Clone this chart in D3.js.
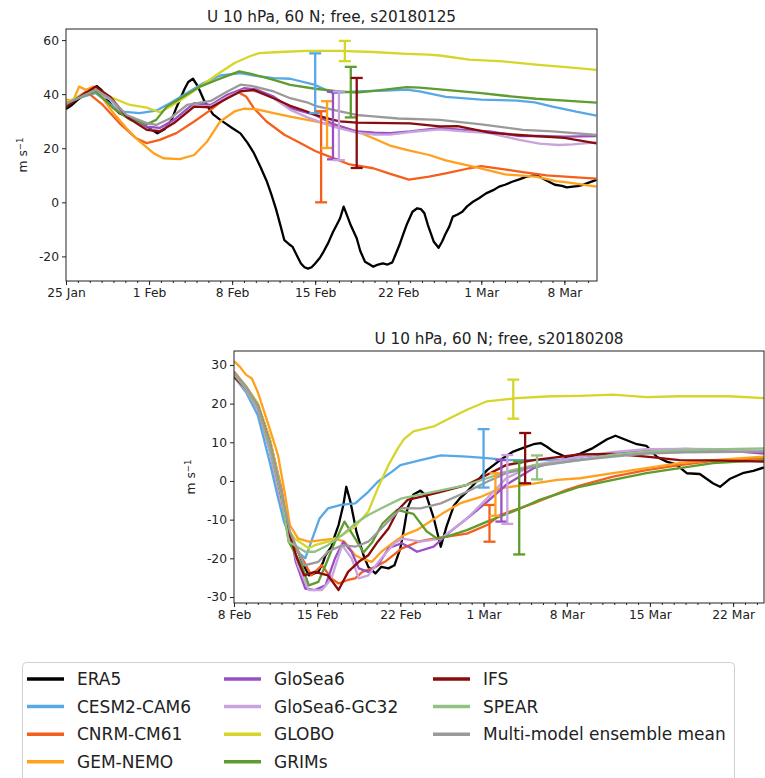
<!DOCTYPE html>
<html lang="en">
<head>
<meta charset="UTF-8">
<title>U 10 hPa, 60 N</title>
<script src="https://d3js.org/d3.v7.min.js"></script>
<style>
  body { margin: 0; background: #fff; }
  svg { display: block; font-family: "DejaVu Sans", sans-serif; }
</style>
</head>
<body>
<script>
// legend entries and colours
var models = ["ERA5", "CESM2-CAM6", "CNRM-CM61", "GEM-NEMO", "GloSea6", "GloSea6-GC32", "GLOBO", "GRIMs", "IFS", "SPEAR", "Multi-model ensemble mean"];
var colors = ["#000000", "#58a8e6", "#f4601c", "#ffa11c", "#9a4fc2", "#c9a3dd", "#d5d52a", "#5e9c2e", "#8a0b0b", "#92c283", "#9a9a9a"];

// tick labels
var xLabelsTop = ["25 Jan", "1 Feb", "8 Feb", "15 Feb", "22 Feb", "1 Mar", "8 Mar"];
var xLabelsBot = ["8 Feb", "15 Feb", "22 Feb", "1 Mar", "8 Mar", "15 Mar", "22 Mar"];
var yTicksTop = [-20, 0, 20, 40, 60];
var yTicksBot = [-30, -20, -10, 0, 10, 20, 30];

// ---- start date 2018-01-25: [day offset, m/s] ----
var era5Top = [[0,34.5],[0.5,36],[1,38],[1.5,39.5],[2,41],[2.6,43],[3,41.5],[3.5,38],[4,35],[4.5,33],[5,32],[5.5,31],[6,30],[6.5,28.5],[7,27.5],[7.7,25.5],[8.3,27],[8.9,30.5],[9.3,35],[9.6,38],[10,42],[10.3,44.5],[10.7,45.7],[11.1,43],[11.6,38],[12,35],[12.4,32.5],[13,30.5],[13.5,29],[14,27.5],[14.7,25.5],[15.3,22],[15.8,18.5],[16.4,13],[16.9,8],[17.3,3],[17.7,-2.5],[18.1,-9],[18.4,-14],[18.8,-15.5],[19.1,-16.5],[19.5,-20],[19.8,-22.6],[20.1,-24],[20.4,-24.5],[20.7,-24],[21,-22.6],[21.4,-20.5],[21.7,-18.3],[22.1,-15],[22.5,-11],[22.8,-8.5],[23.1,-5.9],[23.4,-1.6],[23.7,-5],[24,-8.5],[24.5,-13.3],[24.8,-18],[25.2,-22],[25.6,-23],[25.9,-23.8],[26.3,-23],[26.7,-22.6],[27.1,-23],[27.5,-22.2],[27.8,-19],[28.1,-15.8],[28.4,-12],[28.7,-8.4],[29.2,-3.5],[29.6,-2.2],[29.9,-2.5],[30.2,-4],[30.5,-8.4],[31,-14.6],[31.4,-16.8],[31.7,-14.5],[32,-11.5],[32.3,-9],[32.6,-5.3],[33,-4.5],[33.4,-3.5],[33.8,-1.5],[34.3,0.2],[34.8,1.5],[35.4,3.3],[36,4.5],[36.5,5.8],[37,6.5],[37.6,7.6],[38.2,8.5],[38.8,9.5],[39.2,9.8],[39.6,10.1],[40.1,9],[40.7,7.6],[41.2,6.5],[41.8,6.1],[42.2,5.5],[42.7,5.8],[43.1,6],[43.5,6.4],[44,7.2],[44.7,8.3]];
var cesmTop = [[0,36.5],[1,38.5],[2.5,40.4],[3.5,37],[4.5,33.6],[6.2,33],[7.6,33.9],[8.8,36.7],[10.2,40.4],[11.6,44.1],[13,46.9],[14.7,47.8],[16,46.8],[17.5,45.9],[18.9,45.7],[21,43.4],[22.5,40.4],[24.5,41],[27,41.3],[28.7,41.7],[29.8,41],[32,39],[35,38],[38,37.6],[39.5,37],[41,35.4],[43,33.5],[44.7,32.1]];
var cnrmTop = [[0,36],[1.7,41],[3.1,36],[4.5,29.3],[5.9,23.7],[6.8,21.9],[7.9,23.1],[9.3,25.6],[10.8,29.9],[12.2,34.2],[13.6,39.1],[14.5,40.8],[15.2,39],[15.8,35],[16.9,29.9],[18.4,25],[19.5,22.5],[21,19],[22.2,16.9],[23.9,14],[25.9,12.6],[27.2,10.7],[28.9,8.4],[30.6,9.5],[32,10.7],[34,12.6],[35,13.4],[36.8,12.3],[38.5,11.2],[40.5,10],[42.7,9.3],[44.7,8.8]];
var gemTop = [[0,38],[0.6,37.5],[1.1,42.8],[1.7,41.6],[2.3,42.8],[3.1,38.5],[4,33],[5.1,27.4],[6.2,22.5],[7.4,18.1],[8.2,16.3],[9.6,16],[10.8,17.5],[11.9,22.5],[13,29.9],[14.2,33.6],[15,34.6],[16,34.5],[17.5,33],[18.9,31.7],[21,29.9],[23.1,28],[24.5,26.2],[25.9,23.7],[27.3,21],[28.7,19.4],[30.6,17.5],[32,15.5],[34.5,13],[37,10.3],[39.6,9.5],[41.3,7.8],[42.4,7.3],[44.7,5.8]];
var glosea6Top = [[0,36],[1,38.5],[2.5,41.5],[3.7,38.5],[5.1,32],[6.8,28],[7.9,27.5],[9.1,30.5],[10.8,36.7],[12.2,36],[13.6,39.8],[15,42.2],[16,41.8],[17.5,39.1],[18.9,34.8],[21,32.3],[22.5,29],[24.5,26.2],[26,25.8],[27.3,25.6],[29,26.2],[31.5,27.4],[33.5,26.8],[35.7,26.2],[38.2,24.5],[39.9,24.6],[42,24.3],[44.7,24.5]];
var gc32Top = [[0,36],[1,38.5],[2.5,41],[3.7,38],[5.1,31.5],[6.8,27],[7.9,26.5],[9.1,29.5],[10.8,35.5],[12.2,35.5],[13.6,39],[15,41.5],[16,41],[17.5,38.5],[18.9,34.2],[20.3,31.5],[22.5,28],[24.5,25.8],[26,25],[27.3,25],[29,26],[31.5,27],[33.5,26.2],[35.7,25.6],[38.2,23.1],[39.9,21.7],[41.5,21.2],[42.7,21.4],[44.7,22.2]];
var globoTop = [[0,37],[1,39],[2.5,41.6],[3.7,39],[5.4,36],[6.8,35],[7.9,33.3],[8.8,35.4],[9.9,38.5],[11.3,42.8],[12.7,47.2],[14.2,51.5],[15.6,54.2],[16.3,55.2],[18,55.6],[20.3,56],[23.1,56],[25.9,55.6],[28.7,54.9],[30.6,54.6],[31.5,54.3],[34,52.8],[36.8,52.1],[39.6,50.9],[42.4,49.9],[44.7,49]];
var grimsTop = [[0,36],[1,38.5],[2.5,41],[4,34.8],[5.4,30.5],[6.8,28.9],[7.6,30.5],[8.5,35.4],[9.9,39.1],[11.3,42.8],[12.7,45.3],[14.6,48.4],[15.6,47.5],[17.5,45.3],[18.9,43.4],[21,42],[23,41],[24.5,40.6],[26.5,41.5],[28.7,42.6],[29.8,42.4],[31.5,41.8],[35,40.4],[36.8,39.5],[39.6,38.3],[42.4,37.5],[44.7,36.9]];
var ifsTop = [[0,35],[0.8,38],[2.5,42.8],[3.7,39.1],[5.1,31.7],[6.8,26.8],[7.9,26.2],[9.1,29.3],[10.8,35.4],[12.2,35.1],[13.6,38.5],[14.7,41],[15.8,41.6],[17.5,38.5],[18.9,35.7],[20.3,33.6],[21,32.3],[22.5,30.5],[23.1,29.9],[24.5,29.5],[27.3,29.3],[29,29.2],[31.5,28.1],[33,28.2],[35.7,25.8],[38.2,24.9],[39.9,24.4],[42,23.8],[44.7,21.8]];
var meanTop = [[0,36.5],[1,38.5],[2.5,41.6],[3.7,38.5],[5.1,32.3],[6.8,29.3],[7.6,28.6],[8.8,31.1],[10.2,36],[12.2,37.5],[13.6,41],[14.7,43.5],[15.6,43.1],[17.5,41],[18.9,38.5],[20.3,37],[21,35.7],[23.1,33.6],[24.5,32.3],[25.9,31.8],[28,31],[31.5,30.5],[35,28.8],[38.5,26.8],[41,26.2],[44.7,24.9]];
// error bars: [model, day, low, high]
var barsTop = [["CESM2-CAM6",21,33,55.1],["CNRM-CM61",21.5,0,33.7],["GEM-NEMO",22,20.1,37.4],["GloSea6",22.5,15.9,40.9],["GloSea6-GC32",23,15.6,41],["GLOBO",23.5,52.2,59.7],["GRIMs",24,31.4,50.1],["IFS",24.5,12.7,46]];

// ---- start date 2018-02-08 ----
var era5Bot = [[0,27.5],[1,24],[2,19],[3,9],[3.8,-2],[4.5,-12],[4.9,-15.7],[5.4,-18.3],[5.9,-22],[6.3,-24.4],[6.7,-24],[7.1,-23.5],[7.5,-21],[7.7,-19.2],[8.2,-17],[8.5,-14],[8.8,-11.4],[9.2,-6.2],[9.45,-1.5],[9.8,-5.4],[10.3,-13.1],[10.9,-19.2],[11.3,-22.2],[11.9,-23.9],[12.4,-22.2],[13,-22.6],[13.5,-21.8],[14,-17.4],[14.3,-12.5],[14.6,-7],[15.1,-3.5],[15.7,-2.5],[16.2,-3.9],[16.8,-9.5],[17.4,-17],[17.9,-11.6],[18.5,-6.4],[19,-4.5],[19.6,-2.8],[20.4,-0.2],[21.3,2.8],[22.4,5.4],[23.5,7.6],[24.4,8.6],[25.2,9.5],[25.8,9.8],[26.3,8.9],[26.9,7.6],[28,6.1],[29.1,7],[30.2,8.5],[31.4,10.8],[32.1,11.7],[33,10.6],[33.9,9.5],[34.7,9.1],[35.6,6.2],[36.4,5],[37.2,4.3],[38.1,2],[39.2,1.8],[40.3,-0.6],[40.9,-1.5],[41.7,0.5],[42.8,2],[43.7,2.6],[44.6,3.5]];
var cesmBot = [[0,27],[1,23],[2,17],[3,5],[3.6,-3],[4.2,-10.5],[5,-16.6],[5.6,-19],[6,-20],[6.5,-15.7],[7.2,-9.7],[7.9,-7.1],[9,-6.2],[10.2,-5.8],[11.3,-2.8],[12.1,-0.2],[13.3,2.4],[14,4.1],[15.7,5.4],[17.4,6.6],[19.6,6.3],[21.3,5.9],[23,5.4],[25.2,5.4],[29.1,5.6],[32,6.5],[34.7,7.5],[38,7.8],[44.6,7.8]];
var cnrmBot = [[0,28.3],[1,24.5],[2,20],[3,11],[4,-2],[4.6,-13.1],[5.1,-17],[5.9,-20.9],[6.5,-24.4],[7.4,-21.8],[8.2,-25.2],[8.8,-26.5],[9.6,-25.6],[10.2,-25.2],[10.8,-23.5],[11.6,-22.6],[12.7,-20.9],[14.1,-17.5],[15.5,-15.7],[16.8,-14.9],[19.6,-13.6],[21.3,-11.4],[22.4,-8.8],[25.2,-5.8],[28,-2.3],[29.1,-1.2],[31.9,1.1],[34.7,2.8],[37.5,4.1],[40.3,5.2],[44.6,5.9]];
var gemBot = [[0,31],[0.5,29.5],[1,27.5],[1.5,26.5],[2,23],[2.9,14.5],[3.7,6.7],[4.3,-3.6],[4.7,-11.4],[5.4,-14.9],[6.3,-15.7],[7.4,-15.3],[8.5,-14.9],[9.3,-15.7],[10.2,-19.2],[10.7,-20],[11.6,-20.9],[12.4,-18.3],[13.5,-15.7],[14.3,-14],[15.5,-12.5],[17.5,-8.5],[19,-5.8],[20.7,-4.2],[22.4,-1.9],[25.2,-0.7],[27.2,0.3],[29.1,0.7],[31.9,2],[34.7,3.3],[37.5,4.6],[40.3,5.4],[44.6,6.3]];
var glosea6Bot = [[0,27],[1,23.5],[2,18.5],[3,8],[4,-6],[4.9,-16],[5.2,-20.9],[6,-27.8],[6.8,-28.2],[7.7,-27],[8.5,-20],[9.2,-15.7],[9.9,-18.3],[10.5,-22.6],[11.3,-23.5],[12.1,-21.8],[13,-17.4],[14.1,-16.1],[14.7,-17],[15.4,-18.3],[16.8,-17],[18.2,-13.1],[19.6,-9.7],[21.3,-5.4],[22.9,-1],[25.2,3.3],[27.4,5.4],[29.1,6.3],[32,7.2],[34.7,8],[38,8.3],[41,8],[44.6,7.1]];
var gc32Bot = [[0,27],[1,23.5],[2,18.5],[3,8],[4,-6],[4.9,-16],[5.4,-22],[6.3,-28.2],[7.4,-28.2],[8.2,-25.2],[9.1,-16.6],[9.9,-20],[10.5,-25.2],[11.3,-24.4],[12.4,-20],[13.5,-16.1],[14.2,-14.9],[15.7,-15.7],[17.4,-14.9],[19.6,-9.7],[21.3,-4.5],[22.9,0.7],[25.2,4.1],[29.1,6.3],[32,7.5],[34.7,8.2],[38,8.3],[41,8.2],[44.6,7.8]];
var globoBot = [[0,28],[1,24.5],[2,20],[3,11],[3.8,0],[4.6,-12.7],[5.1,-14.9],[6.3,-17.4],[6.8,-16.6],[7.9,-15.7],[9.1,-14],[10.2,-11.8],[11.3,-7.9],[12.1,-1.9],[13,4.1],[13.8,8.5],[14.3,10.8],[15.1,12.8],[16.8,14.1],[18.2,16.3],[19.6,18.4],[21.3,20.6],[23.8,21.4],[26.6,21.9],[29.1,22],[31.9,22.3],[34.7,21.7],[37.5,21.9],[41.7,21.9],[44.6,21.4]];
var grimsBot = [[0,27.5],[1,24],[2,19],[3,9],[4,-4],[4.6,-15.7],[5.7,-21.8],[6.3,-27],[7.1,-26.1],[7.7,-21.8],[8.5,-15.7],[9.3,-10.5],[10.2,-14.9],[10.9,-18.5],[11.6,-16],[12.5,-11],[13.7,-7.5],[15.1,-8.5],[16.2,-13],[17.1,-14.9],[17.9,-14.4],[19.6,-12.7],[21.3,-10.5],[22.4,-9.2],[24.1,-7.1],[25.7,-4.9],[27.4,-3.2],[29.1,-1.5],[31.9,0.3],[34.7,2],[37.5,3.3],[40.3,4.6],[44.6,5.4]];
var ifsBot = [[0,27],[1,24],[2,19.5],[3,10],[4,-4],[4.6,-13],[5.3,-20],[5.9,-24.4],[6.8,-23.5],[7.9,-24.4],[8.8,-28.2],[9.6,-23.5],[10.5,-20.9],[11.3,-19.2],[12.1,-15.7],[13,-12.3],[13.8,-7.5],[14.6,-4.9],[15.7,-4.1],[17.4,-2.8],[19.6,-1],[21.3,1.6],[22.9,4.1],[25.2,5.4],[29.1,6.9],[31.9,7],[34.7,6.3],[37.5,5.4],[40.3,5.3],[44.6,5]];
var spearBot = [[0,27.5],[1,24],[2,19],[3,9],[4,-4],[4.6,-15.7],[6,-18.3],[6.8,-18.3],[7.9,-16.6],[9.1,-14],[10.2,-11],[11.3,-8.8],[12.7,-6.6],[14.1,-4.5],[16.8,-2.8],[19.6,-1],[21.3,0.7],[22.9,2.4],[25.2,4],[29.1,5.4],[31.9,6.8],[34.7,7.6],[38,8],[44.6,8.4]];
var meanBot = [[0,28],[1,24.5],[2,19.5],[3,10],[4,-3],[4.7,-13],[5.9,-21.8],[7.1,-20.9],[7.9,-18.3],[9.1,-16.6],[10.2,-17],[11.3,-15.7],[12.4,-12.3],[13.5,-8.8],[14.1,-7],[15.7,-7.1],[17.4,-5.8],[19.6,-2.8],[21.3,-0.2],[22.9,2],[25.2,3.7],[29.1,5.4],[31.9,6.3],[34.7,7.1],[38,7.4],[44.6,7.6]];
var barsBot = [["CESM2-CAM6",21,-1.7,13.4],["CNRM-CM61",21.5,-15.7,-6.2],["GEM-NEMO",22,-9,2],["GloSea6",22.5,-10.5,5.4],["GloSea6-GC32",23,-11.1,6.7],["GLOBO",23.5,16.1,26.2],["GRIMs",24,-19,5],["IFS",24.5,-0.6,12.4],["SPEAR",25.5,0.4,6.6]];

var color = d3.scaleOrdinal().domain(models).range(colors);

var svg = d3.select("body").append("svg").attr("width", 765).attr("height", 778);

function panel(p) {
  var dayMs = 864e5;
  var toDate = function(d) { return new Date(+p.start + d * dayMs); };
  var x = d3.scaleUtc().domain([p.start, toDate(p.span)]).range([p.left, p.right]);
  var y = d3.scaleLinear().domain(p.yDomain).range([p.bottom, p.top]);
  var g = svg.append("g");

  g.append("clipPath").attr("id", p.id).append("rect")
    .attr("x", p.left).attr("y", p.top).attr("width", p.right - p.left).attr("height", p.bottom - p.top);

  // lines
  var line = d3.line().x(function(d) { return x(toDate(d[0])); }).y(function(d) { return y(d[1]); });
  var plot = g.append("g").attr("clip-path", "url(#" + p.id + ")");
  p.series.forEach(function(s) {
    plot.append("path").datum(s[1]).attr("d", line)
      .attr("fill", "none").attr("stroke", color(s[0])).attr("stroke-width", 2.3)
      .attr("stroke-linejoin", "round");
  });

  // error bars
  p.bars.forEach(function(b) {
    var bx = x(toDate(b[1])), y0 = y(b[2]), y1 = y(b[3]);
    var eb = plot.append("g").attr("stroke", color(b[0])).attr("stroke-width", 2.3);
    eb.append("line").attr("x1", bx).attr("x2", bx).attr("y1", y0).attr("y2", y1);
    eb.append("line").attr("x1", bx - 6).attr("x2", bx + 6).attr("y1", y0).attr("y2", y0);
    eb.append("line").attr("x1", bx - 6).attr("x2", bx + 6).attr("y1", y1).attr("y2", y1);
  });

  // axes
  var weeks = p.xLabels.map(function(l, i) { return toDate(7 * i); });
  var xAxis = d3.axisBottom(x).tickValues(weeks).tickSize(4).tickPadding(3)
    .tickFormat(function(d, i) { return p.xLabels[i]; });
  var xMinor = d3.axisBottom(x).tickValues(d3.utcDay.range(p.start, toDate(p.span))).tickSize(2).tickFormat("");
  var yAxis = d3.axisLeft(y).tickValues(p.yTicks).tickSize(4).tickPadding(3)
    .tickFormat(function(d) { return String(d); });

  g.append("g").attr("transform", "translate(0," + p.bottom + ")").call(xMinor);
  g.append("g").attr("transform", "translate(0," + p.bottom + ")").call(xAxis);
  g.append("g").attr("transform", "translate(" + p.left + ",0)").call(yAxis);
  g.selectAll(".domain").remove();
  g.selectAll(".tick line").attr("stroke", "#222");
  g.selectAll(".tick text").attr("fill", "#222").style("font-size", "12.3px").style("font-family", "DejaVu Sans");

  // frame
  g.append("rect").attr("x", p.left).attr("y", p.top).attr("width", p.right - p.left).attr("height", p.bottom - p.top)
    .attr("fill", "none").attr("stroke", "#222").attr("stroke-width", 1);

  // title
  g.append("text").attr("x", (p.left + p.right) / 2).attr("y", p.top - 7).attr("text-anchor", "middle")
    .style("font-size", "15.3px").attr("fill", "#222").text(p.title);

  // y label
  var yl = g.append("text").attr("transform", "translate(" + p.ylabelX + "," + ((p.top + p.bottom) / 2) + ") rotate(-90)")
    .attr("text-anchor", "middle").style("font-size", "12.3px").attr("fill", "#222");
  yl.append("tspan").text("m s");
  yl.append("tspan").attr("dy", "-0.45em").style("font-size", "8.6px").text("\u22121");
}

panel({
  id: "clipTop", start: new Date(Date.UTC(2018, 0, 25)), span: 44.75,
  left: 66, right: 597, top: 29, bottom: 281, yDomain: [-29.1, 64.1],
  xLabels: xLabelsTop, yTicks: yTicksTop, ylabelX: 27,
  title: "U 10 hPa, 60 N; free, s20180125",
  series: [["ERA5", era5Top], ["CESM2-CAM6", cesmTop], ["CNRM-CM61", cnrmTop], ["GEM-NEMO", gemTop], ["GloSea6", glosea6Top],
           ["GloSea6-GC32", gc32Top], ["GLOBO", globoTop], ["GRIMs", grimsTop], ["IFS", ifsTop], ["Multi-model ensemble mean", meanTop]],
  bars: barsTop
});

panel({
  id: "clipBot", start: new Date(Date.UTC(2018, 1, 8)), span: 44.6,
  left: 234, right: 764, top: 351, bottom: 603, yDomain: [-31.55, 33.6],
  xLabels: xLabelsBot, yTicks: yTicksBot, ylabelX: 195,
  title: "U 10 hPa, 60 N; free, s20180208",
  series: [["ERA5", era5Bot], ["CESM2-CAM6", cesmBot], ["CNRM-CM61", cnrmBot], ["GEM-NEMO", gemBot], ["GloSea6", glosea6Bot],
           ["GloSea6-GC32", gc32Bot], ["GLOBO", globoBot], ["GRIMs", grimsBot], ["IFS", ifsBot], ["SPEAR", spearBot],
           ["Multi-model ensemble mean", meanBot]],
  bars: barsBot
});

// legend, filled column by column
var legend = svg.append("g");
legend.append("rect").attr("x", 22.5).attr("y", 662.5).attr("width", 712).attr("height", 140).attr("rx", 4)
  .attr("fill", "#fff").attr("stroke", "#d0d0d0");
var colX = [27, 224, 433];
models.forEach(function(m, i) {
  var cx = colX[Math.floor(i / 4)], cy = 679 + (i % 4) * 27.6;
  legend.append("line").attr("x1", cx).attr("x2", cx + 37).attr("y1", cy).attr("y2", cy)
    .attr("stroke", color(m)).attr("stroke-width", 3.5);
  legend.append("text").attr("x", cx + 50).attr("y", cy).attr("dy", "0.36em")
    .style("font-size", "17px").attr("fill", "#222").text(m);
});
</script>
</body>
</html>
